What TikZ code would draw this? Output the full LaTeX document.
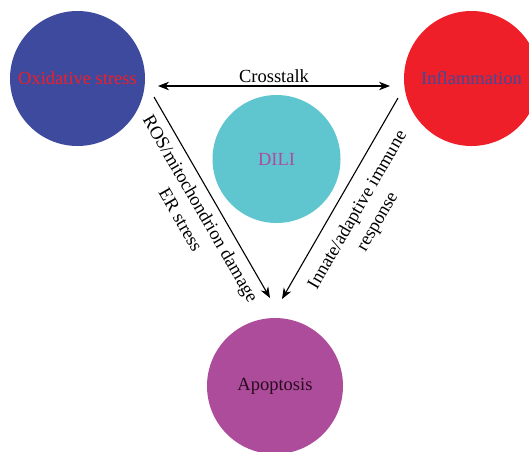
\documentclass[tikz,border=0pt]{standalone}
\usepackage{fontspec}
\setmainfont{Liberation Serif}
\usepackage{tikz}
\usetikzlibrary{arrows.meta,positioning}

\definecolor{oxblue}{RGB}{62,74,158}
\definecolor{inflred}{RGB}{238,31,40}
\definecolor{dilicyan}{RGB}{95,198,208}
\definecolor{apopmagenta}{RGB}{173,76,154}
\definecolor{apoptext}{RGB}{40,10,30}

\tikzset{
  >={Stealth[length=11pt,width=8.5pt,inset=3.5pt]},
  every node/.append style={font=\fontsize{18.5}{23}\selectfont},
}

\begin{document}
\begin{tikzpicture}[
  x=1pt, y=-1pt,
  blob/.style={circle, draw=none, inner sep=0pt, align=center},
  arrow/.style={->, line width=1.1pt},
  edgetext/.style={align=center, inner sep=1pt}
]
\useasboundingbox (0,0) rectangle (529,451);

% --- Circles ---
\node[blob, fill=oxblue, minimum size=135pt, text=inflred] (ox) at (77.5,78.5) {Oxidative stress};
\node[blob, fill=inflred, minimum size=135pt, text=oxblue] (infl) at (471.5,78.5) {Inflammation};
\node[blob, fill=dilicyan, minimum size=128pt, text=apopmagenta] (dili) at (276.5,159) {DILI};
\node[blob, fill=apopmagenta, minimum size=136pt, text=apoptext] (apop) at (275,386) {Apoptosis};

% --- Arrow end points ---
\coordinate (crossL) at (158,86);
\coordinate (crossR) at (390,86);
\coordinate (oxout) at (154,97);
\coordinate (oxin) at (270,298);
\coordinate (inflout) at (398,98);
\coordinate (inflin) at (282,299);

% --- Connectors ---
\draw[<->, line width=1.1pt] (crossL) -- (crossR)
  node[midway, above=2pt, inner sep=1pt] (crosstalk) {Crosstalk};
\draw[arrow] (oxout) -- (oxin);
\draw[arrow] (inflout) -- (inflin);

% --- Edge labels ---
\node[edgetext, rotate=-59.9] (roslabel) at (191,214) {ROS/mitochondrion damage\\ER stress};
\node[edgetext, rotate=59.9] (immlabel) at (368,216) {Innate/adaptive immune\\response};

\end{tikzpicture}
\end{document}
